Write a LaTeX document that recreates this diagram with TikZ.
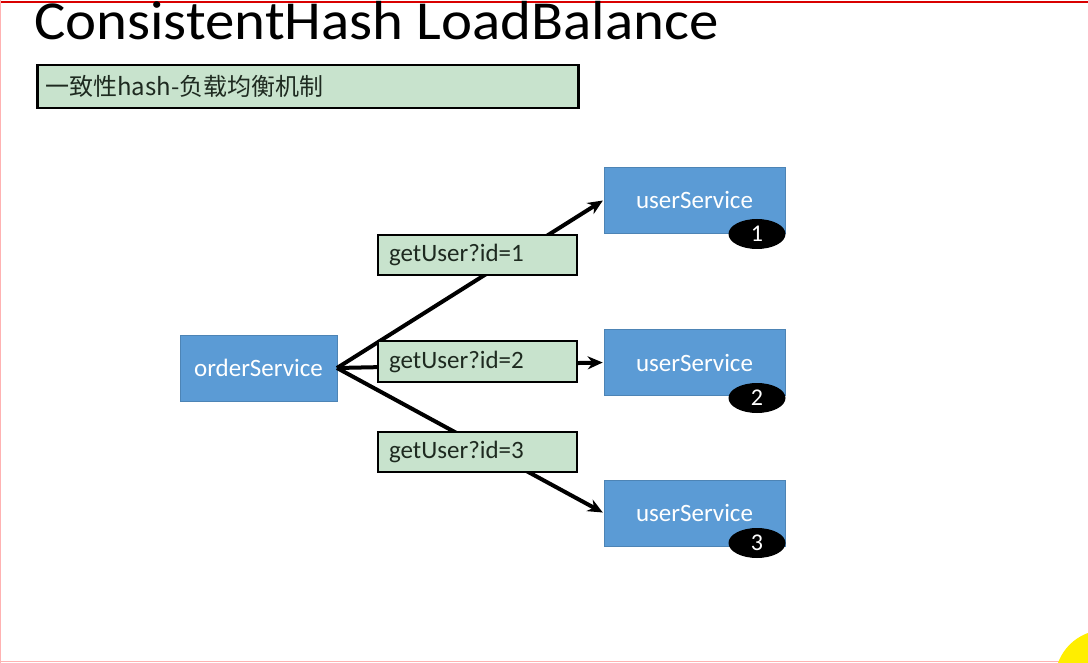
\documentclass[tikz,border=0pt]{standalone}
\usepackage{fontspec}
\setmainfont{Carlito}
\newfontfamily\cjk{Noto Sans CJK SC}
\usetikzlibrary{arrows.meta,shapes.geometric}
\definecolor{svcblue}{HTML}{5B9BD5}
\definecolor{lblgreen}{HTML}{C8E3CD}
\definecolor{cursor}{HTML}{FFEE00}
\definecolor{lbltext}{HTML}{1E2A20}
\tikzset{
  svc/.style={draw=svcblue!85!black, line width=0.6pt, fill=svcblue, text=white, minimum width=157pt, minimum height=66pt, inner sep=0pt, font=\fontsize{25}{30}\selectfont},
  usvc/.style={svc, minimum width=181pt},
  lbl/.style={draw=black, line width=2pt, fill=lblgreen, minimum width=199pt, minimum height=40pt, inner sep=0pt, text width=177pt, align=left, font=\fontsize{25}{30}\selectfont, text=lbltext},
  badge/.style={ellipse, fill=black, text=white, minimum width=57pt, minimum height=30pt, inner sep=0pt, font=\fontsize{24}{28}\selectfont},
  conn/.style={line width=4pt, -{Stealth[length=15pt, width=13pt]}, shorten >=1pt}
}
\begin{document}
\begin{tikzpicture}[x=1pt, y=-1pt]
\useasboundingbox (0,0) rectangle (1088,663);
\fill[white] (0,0) rectangle (1088,663);
% frame
\draw[red!85!black, line width=2pt] (0,2) -- (1088,2);
\draw[red!30, line width=1pt] (0.5,0) -- (0.5,663);
\draw[red!30, line width=1pt] (0,661.5) -- (1088,661.5);
% cursor highlight
\begin{scope}
\clip (0,0) rectangle (1088,663);
\fill[cursor] (1105,680) circle (50);
\end{scope}
% title
\node[anchor=base west, inner sep=0pt, xscale=1.07, font=\fontsize{55}{64}\selectfont] (title) at (34,40) {ConsistentHash LoadBalance};
% subtitle
\node[draw=black, line width=2.5pt, fill=lblgreen, anchor=north west, minimum width=541pt, minimum height=43pt, inner sep=0pt] (sub) at (36,64) {};
\node[anchor=west, inner sep=0pt, font=\cjk\fontsize{24}{28}\selectfont, text=lbltext] (subt) at (45,86.5) {一致性hash-负载均衡机制};
% services
\node[svc] (order) at (258.5,368) {orderService};
\node[usvc] (u1) at (694.5,200) {userService};
\node[usvc] (u2) at (694.5,362.5) {userService};
\node[usvc] (u3) at (694.5,513) {userService};
\node[badge] (b1) at (757,234) {1};
\node[badge] (b2) at (757,398) {2};
\node[badge] (b3) at (757,543) {3};
% connectors
\coordinate (o) at (337,368);
\draw[conn] (o) -- (u1.west);
\draw[conn] (o) -- (u2.west);
\draw[conn] (o) -- (u3.west);
% labels
\node[lbl] (l1) at (477.5,255) {\raisebox{-4pt}{getUser?id=1}};
\node[lbl] (l2) at (477.5,361.5) {\raisebox{-4pt}{getUser?id=2}};
\node[lbl] (l3) at (477.5,451.5) {\raisebox{-4pt}{getUser?id=3}};
\end{tikzpicture}
\end{document}
